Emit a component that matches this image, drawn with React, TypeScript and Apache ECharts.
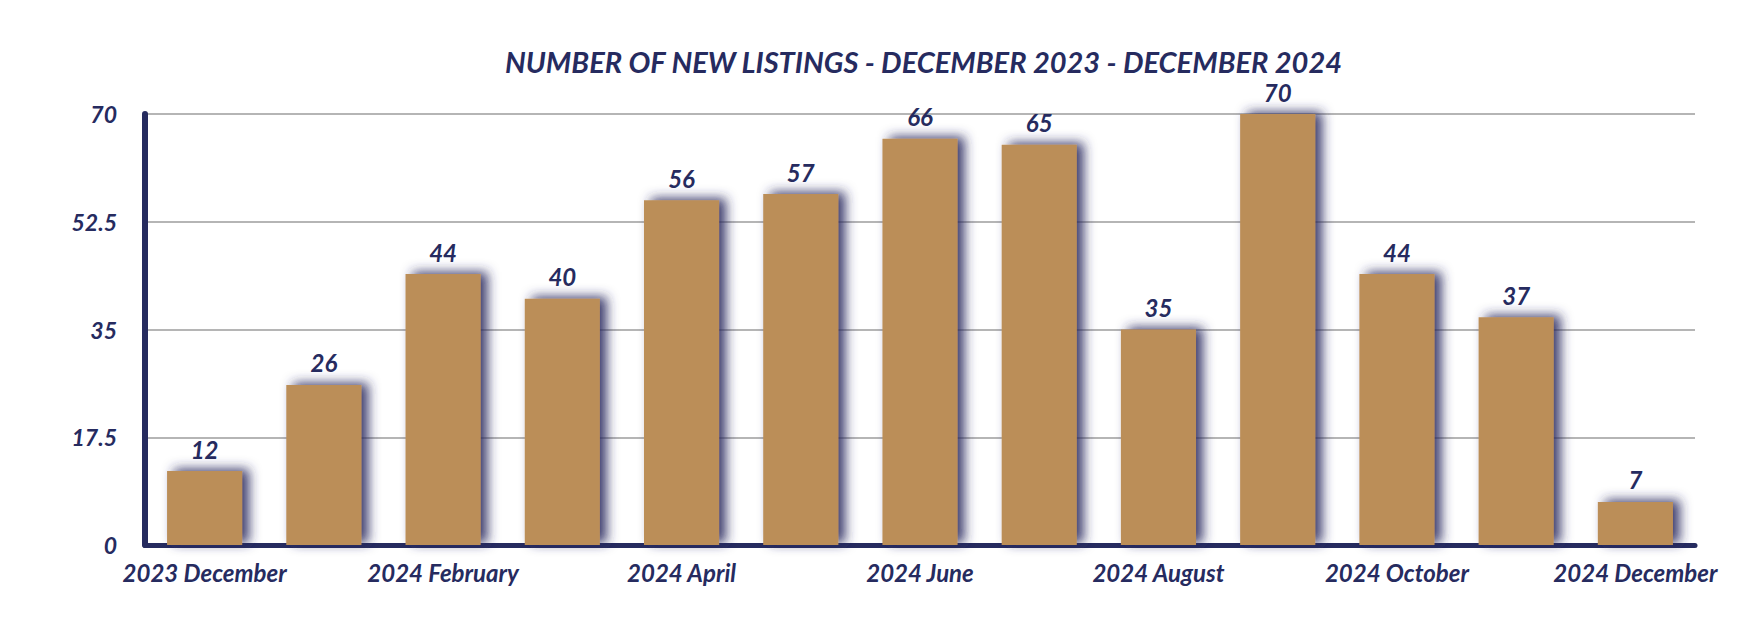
import React, { useEffect, useRef } from "react";
import * as echarts from "echarts";

const categories = [
  "2023 December", "2024 January", "2024 February", "2024 March", "2024 April",
  "2024 May", "2024 June", "2024 July", "2024 August", "2024 September",
  "2024 October", "2024 November", "2024 December",
];
const listings = [12, 26, 44, 40, 56, 57, 66, 65, 35, 70, 44, 37, 7];
const yTicks = [0, 17.5, 35, 52.5, 70];
const titleText = "NUMBER OF NEW LISTINGS - DECEMBER 2023 - DECEMBER 2024";

const NAVY = "#262b5f";
const FONT = "Lato";

export default function App() {
  const ref = useRef<HTMLDivElement>(null);
  useEffect(() => {
    if (!ref.current) return;
    const chart = echarts.init(ref.current, undefined, { renderer: "svg" });
    chart.setOption({
      animation: false,
      backgroundColor: "#ffffff",
      title: {
        text: titleText,
        left: 500,
        top: 42,
        textStyle: {
          color: NAVY,
          fontFamily: FONT,
          fontSize: 29,
          fontWeight: "bold",
          fontStyle: "italic",
        },
      },
      grid: { left: 145, right: 55, top: 114, bottom: 83, containLabel: false },
      xAxis: {
        type: "category",
        data: categories,
        axisLine: { show: true, lineStyle: { color: NAVY, width: 5 } },
        axisTick: { show: false },
        axisLabel: {
          interval: 1,
          margin: 15,
          color: NAVY,
          fontFamily: FONT,
          fontSize: 24,
          fontWeight: "bold",
          fontStyle: "italic",
        },
      },
      yAxis: {
        type: "value",
        min: yTicks[0],
        max: yTicks[yTicks.length - 1],
        interval: yTicks[1] - yTicks[0],
        axisLine: { show: true, lineStyle: { color: NAVY, width: 6 } },
        axisTick: { show: false },
        splitLine: { lineStyle: { color: "#b5b5b5", width: 2 } },
        axisLabel: {
          margin: 28,
          color: NAVY,
          fontFamily: FONT,
          fontSize: 23,
          fontWeight: "bold",
          fontStyle: "italic",
        },
      },
      series: [
        {
          type: "bar",
          data: listings,
          barWidth: "63%",
          itemStyle: {
            color: "#bb8e59",
            shadowBlur: 12,
            shadowColor: "rgba(38,43,95,0.9)",
            shadowOffsetX: 7,
            shadowOffsetY: -2,
          },
          label: {
            show: true,
            position: "top",
            distance: 10,
            color: NAVY,
            fontFamily: FONT,
            fontSize: 24,
            fontWeight: "bold",
            fontStyle: "italic",
          },
        },
      ],
    });
    return () => chart.dispose();
  }, []);
  return (
    <div
      ref={ref}
      style={{ position: "absolute", left: 0, top: 0, width: 1750, height: 628 }}
    />
  );
}
